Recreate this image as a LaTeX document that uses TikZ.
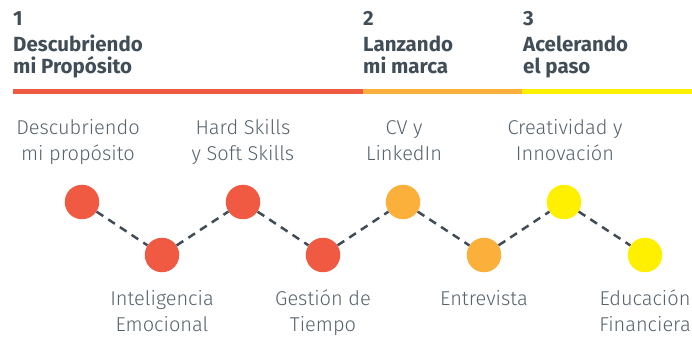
\documentclass[tikz,border=0pt]{standalone}
\usepackage{fontspec}
\setmainfont{Fira Sans}
\newfontfamily\lightfont{Fira Sans}[UprightFont={* Light}]
\definecolor{cred}{HTML}{F15A42}
\definecolor{corange}{HTML}{FBB03B}
\definecolor{cyellow}{HTML}{FFF000}
\definecolor{cdash}{HTML}{414C56}
\definecolor{chead}{HTML}{414E58}
\definecolor{ctext}{HTML}{56626C}
\tikzset{
  num/.style={anchor=base west, inner sep=0pt, text=chead, font=\fontsize{20.5}{22}\selectfont\bfseries},
  title/.style={anchor=base west, inner sep=0pt, align=left, text=chead, font=\fontsize{20.5}{21.6}\selectfont\bfseries},
  lab/.style={anchor=base, inner sep=0pt, align=center, text=ctext, font=\fontsize{20}{26}\selectfont\lightfont},
  dot/.style={circle, inner sep=0pt, minimum size=34.5pt, draw=none},
  conn/.style={draw=cdash, line width=2.5pt, dash pattern=on 8pt off 6pt},
  bar/.style={line width=5pt}
}
\begin{document}
\begin{tikzpicture}[x=1pt,y=-1pt]
\useasboundingbox (0,0) rectangle (692,352);
% headings (base = last line's baseline)
\node[num] (n1) at (13,26) {1};
\node[title] (t1) at (13,73.3) {Descubriendo\\mi Propósito};
\node[num] (n2) at (363,26) {2};
\node[title] (t2) at (363,73.3) {Lanzando\\mi marca};
\node[num] (n3) at (523,26) {3};
\node[title] (t3) at (523,73.3) {Acelerando\\el paso};
% bars
\coordinate (b0) at (13,91.5);
\coordinate (b1) at (363,91.5);
\coordinate (b2) at (522,91.5);
\coordinate (b3) at (692,91.5);
\draw[bar, cred] (b0) -- (b1);
\draw[bar, corange] (b1) -- (b2);
\draw[bar, cyellow] (b2) -- (b3);
% circles
\node[dot, fill=cred] (c1) at (82,202) {};
\node[dot, fill=cred] (c2) at (162,255) {};
\node[dot, fill=cred] (c3) at (243,202) {};
\node[dot, fill=cred] (c4) at (323,255) {};
\node[dot, fill=corange] (c5) at (403,202) {};
\node[dot, fill=corange] (c6) at (484,255) {};
\node[dot, fill=cyellow] (c7) at (564,202) {};
\node[dot, fill=cyellow] (c8) at (645,255) {};
% connectors
\draw[conn] (c1) -- (c2);
\draw[conn] (c2) -- (c3);
\draw[conn] (c3) -- (c4);
\draw[conn] (c4) -- (c5);
\draw[conn] (c5) -- (c6);
\draw[conn] (c6) -- (c7);
\draw[conn] (c7) -- (c8);
% labels (base = last line's baseline)
\node[lab] (l1) at (78,161) {Descubriendo\\mi propósito};
\node[lab] (l2) at (162,331) {Inteligencia\\Emocional};
\node[lab] (l3) at (243,161) {Hard Skills\\y Soft Skills};
\node[lab] (l4) at (323,331) {Gestión de\\Tiempo};
\node[lab] (l5) at (404,161) {CV y\\LinkedIn};
\node[lab] (l6) at (484,305) {Entrevista};
\node[lab] (l7) at (565,161) {Creatividad y\\Innovación};
\node[lab] (l8) at (645,331) {Educación\\Financiera};
\end{tikzpicture}
\end{document}
